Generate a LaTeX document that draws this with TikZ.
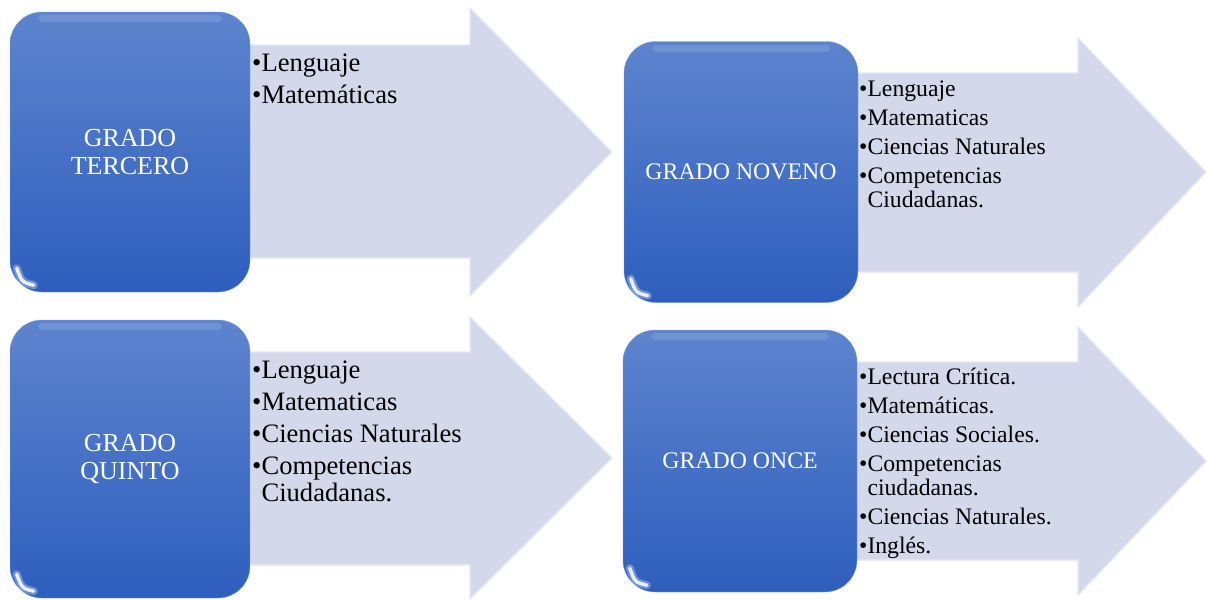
\documentclass[tikz,border=0pt]{standalone}
\usepackage{fontspec}
\setmainfont{Liberation Serif}
\usepackage{xcolor}
\usetikzlibrary{positioning,calc,arrows.meta}
\definecolor{gradetop}{RGB}{93,132,206}
\definecolor{gradebottom}{RGB}{46,94,189}
\definecolor{gradeedge}{RGB}{128,158,220}
\definecolor{arrowfill}{RGB}{211,216,235}
\definecolor{arrowedge}{RGB}{228,232,245}
\newcommand{\biglist}{\fontsize{26.6}{27}\selectfont}
\newcommand{\smalllist}{\fontsize{23.7}{24}\selectfont}

\begin{document}
\begin{tikzpicture}[x=1pt,y=-1pt,
                grade node/.style={rectangle,rounded corners=32pt,draw=gradeedge,thin,
                  top color=gradetop,bottom color=gradebottom,text=white,align=center,
                  inner sep=0pt},
                arrow shape/.style={fill=arrowfill,draw=arrowedge,line width=1.2pt},
                list node/.style={anchor=north west,inner sep=0pt,align=left},
                gloss/.style={white,line cap=round}]
\useasboundingbox (0,0) rectangle (1207,600);
%Arrows
    \draw[arrow shape] (200,45) -- (470,45) -- (470,8) -- (612,152) -- (470,296) -- (470,258) -- (200,258) -- cycle;
    \draw[arrow shape] (800,73) -- (1078,73) -- (1078,38) -- (1206,172) -- (1078,307) -- (1078,272) -- (800,272) -- cycle;
    \draw[arrow shape] (200,352) -- (470,352) -- (470,317) -- (612,458) -- (470,599) -- (470,565) -- (200,565) -- cycle;
    \draw[arrow shape] (800,362) -- (1078,362) -- (1078,327) -- (1206,461) -- (1078,595) -- (1078,560) -- (800,560) -- cycle;
%Nodes
    \node[grade node, minimum width=240pt, minimum height=280pt, font=\fontsize{26}{28}\selectfont] (tercero) at (130,152) {GRADO\\TERCERO};
    \node[grade node, minimum width=234pt, minimum height=261pt, font=\fontsize{23.8}{26}\selectfont] (noveno) at (741,172) {GRADO NOVENO};
    \node[grade node, minimum width=240pt, minimum height=278pt, font=\fontsize{26}{28}\selectfont] (quinto) at (130,459) {GRADO\\QUINTO};
    \node[grade node, minimum width=234pt, minimum height=262pt, font=\fontsize{23.8}{26}\selectfont] (once) at (740,461) {GRADO ONCE};

    % glossy corner and top edge
    \foreach \n in {tercero,noveno,quinto,once}{
        \draw[gloss, line width=8pt, opacity=.3] ($(\n.south west)+(7,-24)$) .. controls ($(\n.south west)+(12,-10)$) .. ($(\n.south west)+(24,-7)$);
        \draw[gloss, line width=3.5pt, opacity=.85] ($(\n.south west)+(7,-24)$) .. controls ($(\n.south west)+(12,-10)$) .. ($(\n.south west)+(24,-7)$);
        \draw[gloss, line width=7pt, opacity=.12] ($(\n.north west)+(32,7)$) -- ($(\n.north east)+(-32,7)$);
    }

%Lists
    \node[list node, font=\biglist] (tercerolist) at (252,54) {\textbullet Lenguaje\\[5pt]
        \textbullet Matemáticas};
    \node[list node, font=\smalllist] (novenolist) at (859,81) {\textbullet Lenguaje\\[5pt]
        \textbullet Matematicas\\[5pt]
        \textbullet Ciencias Naturales\\[5pt]
        \textbullet Competencias\\
        \phantom{\textbullet}Ciudadanas.};
    \node[list node, font=\biglist] (quintolist) at (252,361) {\textbullet Lenguaje\\[5pt]
        \textbullet Matematicas\\[5pt]
        \textbullet Ciencias Naturales\\[5pt]
        \textbullet Competencias\\
        \phantom{\textbullet}Ciudadanas.};
    \node[list node, font=\smalllist] (oncelist) at (859,368) {\textbullet Lectura Crítica.\\[5pt]
        \textbullet Matemáticas.\\[5pt]
        \textbullet Ciencias Sociales.\\[5pt]
        \textbullet Competencias\\
        \phantom{\textbullet}ciudadanas.\\[5pt]
        \textbullet Ciencias Naturales.\\[5pt]
        \textbullet Inglés.};
\end{tikzpicture}
\end{document}
